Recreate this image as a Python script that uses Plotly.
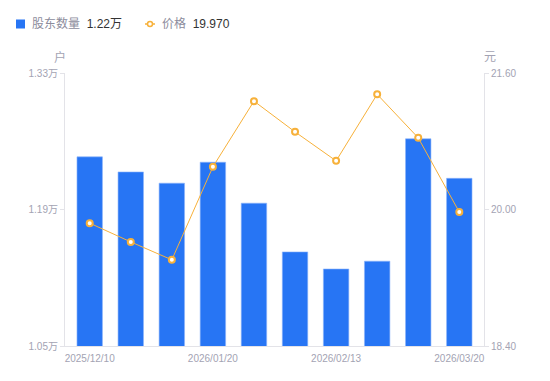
import plotly.graph_objects as go

dates = ["2025/12/10", "2025/12/20", "2025/12/31", "2026/01/20", "2026/01/31",
         "2026/02/10", "2026/02/13", "2026/02/28", "2026/03/10", "2026/03/20"]
holders = [12440, 12285, 12170, 12385, 11965, 11465, 11290, 11370, 12625, 12220]
price = [19.84, 19.62, 19.41, 20.50, 21.27, 20.91, 20.57, 21.35, 20.84, 19.97]

x_tick_vals = ["2025/12/10", "2026/01/20", "2026/02/13", "2026/03/20"]
left_tick_vals = [10500, 11900, 13300]
left_tick_text = ["1.05万", "1.19万", "1.33万"]
right_tick_vals = [18.40, 20.00, 21.60]
right_tick_text = ["18.40", "20.00", "21.60"]

BLUE = "#2775f4"
ORANGE = "#f7b13a"
AXIS = "#e3e3e8"
TICKTXT = "#a3a3b3"
FONT = "Liberation Sans, Noto Sans CJK SC, sans-serif"

# page has 8px body margin; figure drawn at (8, 8)
OFF = 8
PL, PR, PT, PB = 65, 484, 73, 346  # plot area in page pixels


def px(x):
    return (x - PL) / (PR - PL)


def py(y):
    return (PB - y) / (PB - PT)


fig = go.Figure()
fig.add_trace(go.Bar(x=dates, y=holders, marker=dict(color=BLUE, line=dict(color="#8fb5fa", width=0.6)),
                     yaxis="y", showlegend=False))
fig.add_trace(go.Scatter(x=dates, y=price, yaxis="y2", mode="lines+markers",
                         line=dict(color=ORANGE, width=1),
                         marker=dict(size=6, color="white", line=dict(color=ORANGE, width=2)),
                         showlegend=False))

W, H = 550 - OFF, 381 - OFF
fig.update_layout(
    width=W, height=H,
    margin=dict(l=PL - OFF, r=W - (PR - OFF), t=PT - OFF, b=H - (PB - OFF), autoexpand=False),
    plot_bgcolor="white", paper_bgcolor="white",
    font=dict(family=FONT, size=10, color=TICKTXT),
    bargap=0.38,
    xaxis=dict(type="category", tickvals=x_tick_vals, ticktext=x_tick_vals,
               showgrid=False, showline=True, linecolor=AXIS, linewidth=1,
               ticks="", ticklabelstandoff=3,
               tickfont=dict(size=10, color=TICKTXT), zeroline=False, automargin=False),
    yaxis=dict(range=[10500, 13300], tickvals=left_tick_vals, ticktext=left_tick_text,
               showgrid=False, showline=True, linecolor=AXIS, linewidth=1,
               ticks="outside", ticklen=4, tickcolor=AXIS,
               tickfont=dict(size=10, color=TICKTXT), zeroline=False, automargin=False),
    yaxis2=dict(range=[18.40, 21.60], tickvals=right_tick_vals, ticktext=right_tick_text,
                overlaying="y", side="right",
                showgrid=False, showline=True, linecolor=AXIS, linewidth=1,
                ticks="outside", ticklen=4, tickcolor=AXIS,
                tickfont=dict(size=10, color=TICKTXT), zeroline=False, automargin=False),
)

# axis unit labels
fig.add_annotation(text="户", xref="paper", yref="paper", x=px(60), y=py(57),
                   showarrow=False, xanchor="center", yanchor="middle",
                   font=dict(size=12, color=TICKTXT))
fig.add_annotation(text="元", xref="paper", yref="paper", x=px(490), y=py(57),
                   showarrow=False, xanchor="center", yanchor="middle",
                   font=dict(size=12, color=TICKTXT))

# custom legend
fig.add_shape(type="rect", xref="paper", yref="paper",
              x0=px(16), x1=px(25), y0=py(28.5), y1=py(19.5),
              fillcolor=BLUE, line=dict(width=0))
fig.add_annotation(text="股东数量  <span style='color:#333333'>1.22万</span>", xref="paper", yref="paper",
                   x=px(30), y=py(24), xanchor="left", yanchor="middle",
                   showarrow=False, font=dict(size=12, color="#8c8c9c"))
fig.add_shape(type="line", xref="paper", yref="paper",
              x0=px(145), x1=px(155), y0=py(24), y1=py(24),
              line=dict(color=ORANGE, width=1.5))
fig.add_shape(type="circle", xref="paper", yref="paper",
              x0=px(147.5), x1=px(152.5), y0=py(26.5), y1=py(21.5),
              fillcolor="white", line=dict(color=ORANGE, width=1.5))
fig.add_annotation(text="价格  <span style='color:#333333'>19.970</span>", xref="paper", yref="paper",
                   x=px(160), y=py(24), xanchor="left", yanchor="middle",
                   showarrow=False, font=dict(size=12, color="#8c8c9c"))

fig.write_html("out.html")
